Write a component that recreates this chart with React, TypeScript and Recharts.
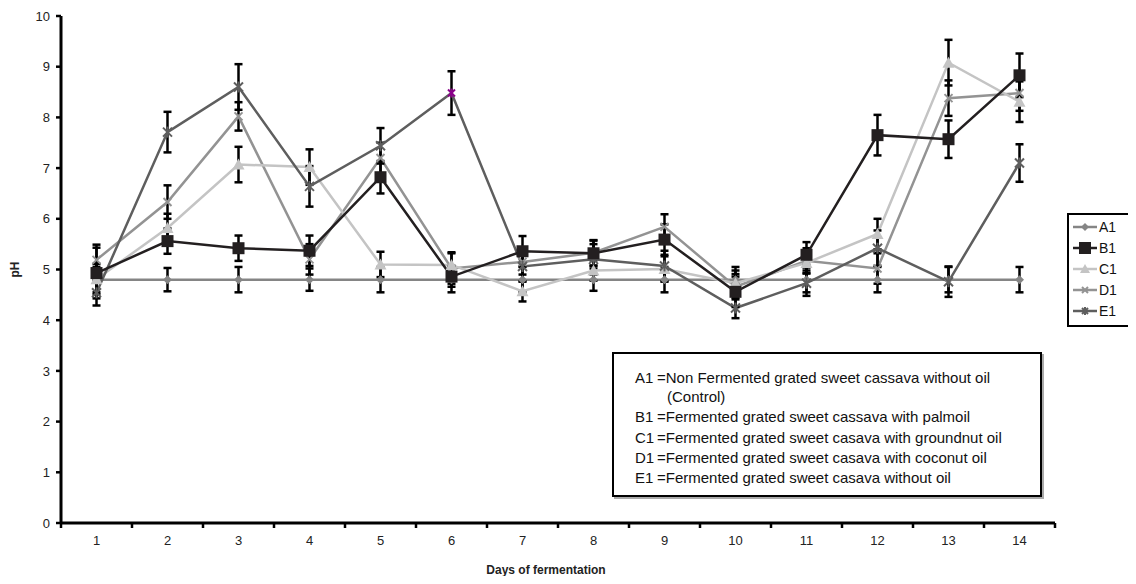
import React from 'react';
import { LineChart, Line, XAxis, YAxis, ErrorBar, Label } from 'recharts';

const days = [1, 2, 3, 4, 5, 6, 7, 8, 9, 10, 11, 12, 13, 14];
const dayLabels = ['1', '2', '3', '4', '5', '6', '7', '8', '9', '10', '11', '12', '13', '14'];
const a1 = [4.8, 4.8, 4.8, 4.8, 4.8, 4.8, 4.8, 4.8, 4.8, 4.8, 4.8, 4.8, 4.8, 4.8];
const b1 = [4.93, 5.56, 5.42, 5.37, 6.82, 4.86, 5.36, 5.32, 5.59, 4.56, 5.29, 7.65, 7.57, 8.83];
const c1 = [4.81, 5.82, 7.07, 7.02, 5.1, 5.09, 4.57, 4.98, 5.01, 4.73, 5.13, 5.7, 9.08, 8.31];
const d1 = [5.19, 6.33, 8.02, 5.2, 7.2, 5.02, 5.15, 5.33, 5.84, 4.66, 5.17, 5.02, 8.38, 8.48];
const e1 = [4.54, 7.71, 8.6, 6.64, 7.44, 8.48, 5.06, 5.2, 5.07, 4.24, 4.73, 5.42, 4.76, 7.1];
const a1Err = [0.25, 0.23, 0.25, 0.22, 0.25, 0.25, 0.25, 0.22, 0.25, 0.25, 0.25, 0.25, 0.25, 0.25];
const b1Err = [0.5, 0.25, 0.25, 0.3, 0.32, 0.2, 0.3, 0.25, 0.3, 0.3, 0.25, 0.4, 0.37, 0.43];
const c1Err = [0.3, 0.28, 0.35, 0.35, 0.25, 0.25, 0.2, 0.2, 0.25, 0.25, 0.2, 0.3, 0.45, 0.4];
const d1Err = [0.3, 0.33, 0.28, 0.3, 0.3, 0.3, 0.25, 0.25, 0.25, 0.25, 0.25, 0.3, 0.35, 0.35];
const e1Err = [0.25, 0.4, 0.45, 0.4, 0.35, 0.43, 0.3, 0.3, 0.3, 0.2, 0.25, 0.35, 0.3, 0.37];
const yTicks = [0, 1, 2, 3, 4, 5, 6, 7, 8, 9, 10];

const data = days.map((d, i) => ({
  day: d,
  A1: a1[i], A1e: a1Err[i],
  B1: b1[i], B1e: b1Err[i],
  C1: c1[i], C1e: c1Err[i],
  D1: d1[i], D1e: d1Err[i],
  E1: e1[i], E1e: e1Err[i],
}));

const FONT = '"Liberation Sans", Arial, sans-serif';
const CHART_W = 1128;
const CHART_H = 568;
const MARGIN = { top: 8, right: 81, bottom: 0, left: 0 };
const Y_W = 53;
const X_H = 53;
const PLOT_W = CHART_W - MARGIN.left - MARGIN.right - Y_W;
const HALF_BAND = PLOT_W / (days.length * 2);
const boundaryTicks = [0.5, ...days.map((d) => d + 0.5)];

const COL = { A1: '#858585', B1: '#231f20', C1: '#c4c4c4', D1: '#939393', E1: '#5e5e5e' };
const HIGHLIGHT = '#8a008a';

const diamond = (p: any) => {
  const { cx, cy, index } = p;
  if (cx == null || cy == null) return <g key={'a' + index} />;
  const s = 4.5;
  return <polygon key={'a' + index} points={`${cx},${cy - s} ${cx + s},${cy} ${cx},${cy + s} ${cx - s},${cy}`} fill={COL.A1} />;
};
const square = (p: any) => {
  const { cx, cy, index } = p;
  if (cx == null || cy == null) return <g key={'b' + index} />;
  return <rect key={'b' + index} x={cx - 6} y={cy - 6} width={12} height={12} fill={COL.B1} />;
};
const triangle = (p: any) => {
  const { cx, cy, index } = p;
  if (cx == null || cy == null) return <g key={'c' + index} />;
  return <polygon key={'c' + index} points={`${cx},${cy - 6} ${cx + 6},${cy + 5} ${cx - 6},${cy + 5}`} fill={COL.C1} />;
};
const cross = (p: any) => {
  const { cx, cy, index } = p;
  if (cx == null || cy == null) return <g key={'d' + index} />;
  const s = 4;
  return (
    <g key={'d' + index} stroke={COL.D1} strokeWidth={2}>
      <line x1={cx - s} y1={cy - s} x2={cx + s} y2={cy + s} />
      <line x1={cx - s} y1={cy + s} x2={cx + s} y2={cy - s} />
    </g>
  );
};
const star = (p: any) => {
  const { cx, cy, index } = p;
  if (cx == null || cy == null) return <g key={'e' + index} />;
  const s = index === 5 ? 3.5 : 4.5;
  const c = index === 5 ? HIGHLIGHT : COL.E1;
  return (
    <g key={'e' + index} stroke={c} strokeWidth={2}>
      <line x1={cx - s} y1={cy - s} x2={cx + s} y2={cy + s} />
      <line x1={cx - s} y1={cy + s} x2={cx + s} y2={cy - s} />
      <line x1={cx} y1={cy - s - 1} x2={cx} y2={cy + s + 1} />
    </g>
  );
};

const XTick = (props: any) => {
  const { x, y, payload, index } = props;
  const v = payload.value;
  const i = Math.round(v - 0.5);
  if (i >= dayLabels.length) return <g key={'xt' + index} />;
  return (
    <text key={'xt' + index} x={x + HALF_BAND} y={y} dy="0.71em" textAnchor="middle" fontFamily={FONT} fontSize={13} fill="#222">
      {dayLabels[i]}
    </text>
  );
};

const renderXLabel = (props: any) => {
  const vb = props.viewBox || { x: 0, y: 0, width: 0, height: 0 };
  return (
    <text x={vb.x + vb.width / 2 - 12} y={vb.y + vb.height - 2} textAnchor="middle" fontFamily={FONT} fontSize={12} fontWeight="bold" fill="#222">
      Days of fermentation
    </text>
  );
};
const renderYLabel = (props: any) => {
  const vb = props.viewBox || { x: 0, y: 0, width: 0, height: 0 };
  const cx = vb.x + 11;
  const cy = vb.y + vb.height / 2;
  return (
    <text x={cx} y={cy} transform={`rotate(-90 ${cx} ${cy})`} textAnchor="middle" fontFamily={FONT} fontSize={12} fontWeight="bold" fill="#222">
      pH
    </text>
  );
};

const legendItems = [
  { name: 'A1', color: COL.A1, shape: 'diamond' },
  { name: 'B1', color: COL.B1, shape: 'square' },
  { name: 'C1', color: COL.C1, shape: 'triangle' },
  { name: 'D1', color: COL.D1, shape: 'cross' },
  { name: 'E1', color: COL.E1, shape: 'star' },
];

const LegendIcon = ({ shape, color }: { shape: string; color: string }) => {
  const cx = 12, cy = 8;
  let m: React.ReactNode = null;
  if (shape === 'diamond') m = <polygon points={`${cx},${cy - 4} ${cx + 4},${cy} ${cx},${cy + 4} ${cx - 4},${cy}`} fill={color} />;
  if (shape === 'square') m = <rect x={cx - 6} y={cy - 6} width={12} height={12} fill={color} />;
  if (shape === 'triangle') m = <polygon points={`${cx},${cy - 5} ${cx + 5},${cy + 4} ${cx - 5},${cy + 4}`} fill={color} />;
  if (shape === 'cross') m = (
    <g stroke={color} strokeWidth={2}>
      <line x1={cx - 3} y1={cy - 3} x2={cx + 3} y2={cy + 3} />
      <line x1={cx - 3} y1={cy + 3} x2={cx + 3} y2={cy - 3} />
    </g>
  );
  if (shape === 'star') m = (
    <g stroke={color} strokeWidth={2}>
      <line x1={cx - 3} y1={cy - 3} x2={cx + 3} y2={cy + 3} />
      <line x1={cx - 3} y1={cy + 3} x2={cx + 3} y2={cy - 3} />
      <line x1={cx} y1={cy - 4} x2={cx} y2={cy + 4} />
    </g>
  );
  return (
    <svg width={24} height={16} style={{ display: 'block' }}>
      <line x1={0} y1={cy} x2={24} y2={cy} stroke={color} strokeWidth={2.5} />
      {m}
    </svg>
  );
};

const boxLines = [
  { code: 'A1', text: '=Non Fermented grated sweet cassava without oil', top: 26 },
  { code: '', text: '(Control)', top: 45, indent: 10 },
  { code: 'B1', text: '=Fermented grated sweet cassava with palmoil', top: 65 },
  { code: 'C1', text: '=Fermented grated sweet casava with groundnut oil', top: 86 },
  { code: 'D1', text: '=Fermented grated sweet casava with coconut oil', top: 106 },
  { code: 'E1', text: '=Fermented grated sweet casava without oil', top: 126 },
];

export default function App() {
  return (
    <div style={{ position: 'relative', width: CHART_W, height: CHART_H, overflow: 'hidden', background: '#fff' }}>
      <LineChart width={CHART_W} height={CHART_H} data={data} margin={MARGIN}>
        <XAxis
          dataKey="day"
          type="number"
          domain={[0.5, 14.5]}
          ticks={boundaryTicks}
          interval={0}
          tick={XTick}
          tickSize={5}
          tickMargin={8}
          height={X_H}
          axisLine={{ stroke: '#000', strokeWidth: 3 }}
          tickLine={{ stroke: '#000', strokeWidth: 2.5 }}
        >
          <Label content={renderXLabel} />
        </XAxis>
        <YAxis
          type="number"
          domain={[0, 10]}
          ticks={yTicks}
          interval={0}
          width={Y_W}
          tickSize={5}
          tickMargin={6}
          tick={{ fontFamily: FONT, fontSize: 13, fill: '#222' }}
          axisLine={{ stroke: '#000', strokeWidth: 3 }}
          tickLine={{ stroke: '#000', strokeWidth: 2.5 }}
        >
          <Label content={renderYLabel} />
        </YAxis>
        <Line dataKey="A1" stroke={COL.A1} strokeWidth={2.5} dot={diamond} isAnimationActive={false}>
          <ErrorBar dataKey="A1e" direction="y" width={4} stroke="#000" strokeWidth={2.5} />
        </Line>
        <Line dataKey="D1" stroke={COL.D1} strokeWidth={2.5} dot={cross} isAnimationActive={false}>
          <ErrorBar dataKey="D1e" direction="y" width={4} stroke="#000" strokeWidth={2.5} />
        </Line>
        <Line dataKey="C1" stroke={COL.C1} strokeWidth={2.5} dot={triangle} isAnimationActive={false}>
          <ErrorBar dataKey="C1e" direction="y" width={4} stroke="#000" strokeWidth={2.5} />
        </Line>
        <Line dataKey="E1" stroke={COL.E1} strokeWidth={2.5} dot={star} isAnimationActive={false}>
          <ErrorBar dataKey="E1e" direction="y" width={4} stroke="#000" strokeWidth={2.5} />
        </Line>
        <Line dataKey="B1" stroke={COL.B1} strokeWidth={2.5} dot={square} isAnimationActive={false}>
          <ErrorBar dataKey="B1e" direction="y" width={4} stroke="#000" strokeWidth={2.5} />
        </Line>
      </LineChart>

      <div style={{ position: 'absolute', left: 604, top: 344, width: 426, height: 141, border: '2.5px solid #000', boxShadow: '2px 2px 0 #aaa', background: '#fff', fontFamily: FONT, fontSize: 15, color: '#111' }}>
        {boxLines.map((l, i) => (
          <div key={i} style={{ position: 'absolute', left: 21, top: l.top - 12.5, height: 20, lineHeight: '20px', whiteSpace: 'nowrap', display: 'flex' }}>
            <span style={{ display: 'inline-block', width: 22 + (l.indent || 0) }}>{l.code}</span>
            <span>{l.text}</span>
          </div>
        ))}
      </div>

      <div style={{ position: 'absolute', left: 1059, top: 205, width: 90, height: 110, border: '2.5px solid #000', background: '#fff', fontFamily: FONT, fontSize: 14, color: '#111' }}>
        {legendItems.map((it, i) => (
          <div key={it.name} style={{ position: 'absolute', left: 4, top: 3 + i * 21, display: 'flex', alignItems: 'center', height: 18 }}>
            <LegendIcon shape={it.shape} color={it.color} />
            <span style={{ marginLeft: 2, lineHeight: '18px' }}>{it.name}</span>
          </div>
        ))}
      </div>
    </div>
  );
}
